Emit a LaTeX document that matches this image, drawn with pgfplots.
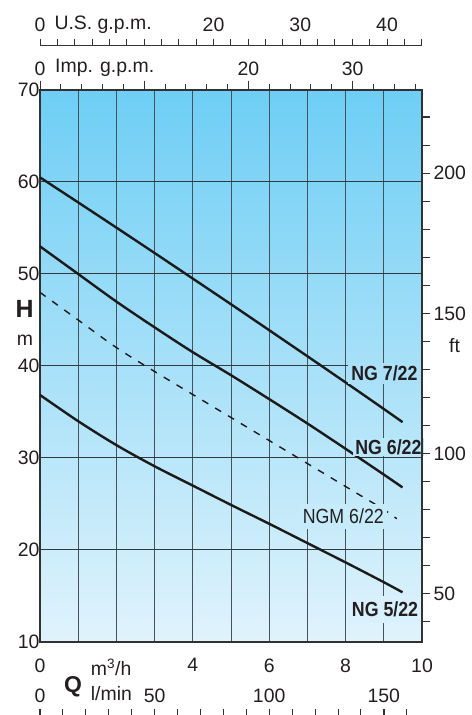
\documentclass[border=0pt]{standalone}
\usepackage{pgfplots}
\pgfplotsset{compat=1.18}
\usepackage{fontspec}
\setmainfont{Liberation Sans}
\newfontfamily\condfont[FakeStretch=0.87]{Liberation Sans}
\definecolor{bgtop}{RGB}{110,206,245}
\definecolor{bgbot}{RGB}{224,243,252}
\definecolor{gridv}{RGB}{70,82,90}
\definecolor{gridh}{RGB}{50,58,64}
\definecolor{framec}{RGB}{50,50,50}
\definecolor{curvec}{RGB}{28,26,26}
\definecolor{txt}{RGB}{35,31,32}
\definecolor{labA}{RGB}{170,225,249}
\definecolor{labB}{RGB}{186,231,250}
\definecolor{labC}{RGB}{198,235,251}
\definecolor{labD}{RGB}{217,241,252}
\newcommand\tf{\fontsize{19.5}{22}\selectfont}
\newcommand\lf{\condfont\fontsize{20.5}{23}\selectfont}
\pgfplotsset{/pgf/number format/assume math mode=true}
\begin{document}
\begin{tikzpicture}
\useasboundingbox (0,0) rectangle (472bp,715bp);
% ---------------- main axis (m3/h, m)
\begin{axis}[
  at={(40bp,73bp)}, anchor=south west,
  scale only axis, width=382bp, height=552bp,
  xmin=0, xmax=10, ymin=10, ymax=70,
  xtick={0,1,...,10}, xticklabels={0,,,,4,,6,,8,,10},
  ytick={10,20,...,70},
  major tick length=0pt,
  xmajorgrids, ymajorgrids,
  x grid style={gridv, line width=1bp},
  y grid style={gridh, line width=1bp},
  axis line style={framec, line width=1.8bp},
  axis background/.style={shade, top color=bgtop, bottom color=bgbot},
  tick label style={font=\tf, text=txt},
  xticklabel style={yshift=-13bp},
  yticklabel style={xshift=3bp},
  clip=false,
]
\addplot[curvec, line width=2.4bp, smooth] coordinates {
 (0,60.5)(1,57.78)(2,55.04)(3,52.28)(4,49.5)(5,46.71)(6,43.89)(7,41.06)(8,38.21)(9,35.33)(9.49,33.9)};
\addplot[curvec, line width=2.4bp, smooth] coordinates {
 (0,53.0)(1,50.0)(2,47.0)(3,44.2)(4,41.5)(5,39.0)(6,36.4)(7,33.75)(8,31.0)(9,28.2)(9.49,26.8)};
\addplot[curvec, line width=1.4bp, smooth, dash pattern=on 7bp off 8bp] coordinates {
 (0,48.0)(1,45.0)(2,42.0)(3,39.4)(4,36.9)(5,34.4)(6,31.9)(7,29.4)(8,26.9)(9,24.4)(9.34,23.4)};
\addplot[curvec, line width=2.4bp, smooth] coordinates {
 (0,36.85)(1,34.0)(2,31.4)(3,29.1)(4,27.0)(5,24.9)(6,22.85)(7,20.75)(8,18.65)(9,16.5)(9.49,15.4)};
\end{axis}
% curve labels
\node[font=\lf\bfseries, text=txt, fill=labA, anchor=base east, inner xsep=3bp, inner ysep=3bp] at (420.7bp,334bp) {NG 7/22};
\node[font=\lf\bfseries, text=txt, fill=labB, anchor=base east, inner xsep=2bp, inner ysep=1.5bp] at (423.7bp,260.7bp) {NG 6/22};
\node[font=\lf, text=txt, fill=labC, anchor=base east, inner xsep=3bp, inner ysep=5bp] at (387bp,191bp) {NGM 6/22};
\node[font=\lf\bfseries, text=txt, fill=labD, anchor=base east, inner xsep=3bp, inner ysep=6bp] at (421.3bp,98.3bp) {NG 5/22};
% ---------------- right axis (ft)
\begin{axis}[
  at={(40bp,73bp)}, anchor=south west,
  scale only axis, width=382bp, height=552bp,
  xmin=0, xmax=10, ymin=32.8084, ymax=229.6588,
  axis x line=none, axis y line*=right,
  ytick={40,50,...,220}, yticklabels={,50,,,,,100,,,,,150,,,,,200,,},
  ytick align=outside, major tick length=8bp,
  tick style={framec, line width=1.2bp},
  axis line style={-, framec, line width=1.8bp},
  tick label style={font=\tf, text=txt},
]
\end{axis}
% ---------------- U.S. g.p.m.
\begin{axis}[
  at={(40bp,669.3bp)}, anchor=north west,
  scale only axis, width=382bp, height=1bp,
  xmin=0, xmax=44.03, ymin=0, ymax=1,
  axis x line=top, axis y line=none,
  xtick={0,20,30,40}, xticklabels={0,20,30,40}, minor xtick={2,4,...,44},
  xtick align=outside, major tick length=7bp, minor tick length=7bp,
  tick style={framec, line width=1bp},
  axis line style={-, framec, line width=1.3bp},
  tick label style={font=\tf, text=txt},
  xticklabel style={yshift=3bp},
]
\end{axis}
% ---------------- Imp. g.p.m.
\begin{axis}[
  at={(40bp,625bp)}, anchor=north west,
  scale only axis, width=382bp, height=1bp,
  xmin=0, xmax=36.66, ymin=0, ymax=1,
  axis x line=top, axis y line=none,
  xtick={0,10,20,30}, xticklabels={0,,20,30}, minor xtick={2,4,...,36},
  xtick align=outside, major tick length=8.5bp, minor tick length=6bp,
  tick style={framec, line width=1bp},
  axis line style={-, draw=none},
  tick label style={font=\tf, text=txt},
  xticklabel style={yshift=2bp},
]
\end{axis}
% ---------------- l/min
\begin{axis}[
  at={(40bp,6bp)}, anchor=north west,
  scale only axis, width=382bp, height=1bp,
  xmin=0, xmax=166.667, ymin=0, ymax=1,
  axis x line=top, axis y line=none,
  xtick={0,50,100,150}, xticklabels={0,50,100,150}, minor xtick={10,20,...,160},
  xtick align=inside, major tick length=12bp, minor tick length=12bp,
  major tick style={framec, line width=1.4bp},
  minor tick style={framec, line width=0.9bp},
  axis line style={-, draw=none},
  tick label style={font=\tf, text=txt},
  xticklabel style={yshift=2.5bp},
]
\end{axis}
% ---------------- texts
\node[font=\tf, text=txt, anchor=base west, inner sep=0pt] at (54.3bp,685.7bp) {U.S. g.p.m.};
\node[font=\tf, text=txt, anchor=base west, inner sep=0pt] at (55bp,642.3bp) {Imp. g.p.m.};
\node[font=\bfseries\fontsize{25}{28}\selectfont, text=txt, anchor=base, inner sep=0pt] at (24.5bp,397bp) {H};
\node[font=\tf, text=txt, anchor=base, inner sep=0pt] at (25bp,369bp) {m};
\node[font=\tf, text=txt, anchor=base, inner sep=0pt] at (454.5bp,362bp) {ft};
\node[font=\bfseries\fontsize{23}{26}\selectfont, text=txt, anchor=base, inner sep=0pt] at (73bp,23bp) {Q};
\node[font=\tf, text=txt, anchor=base west, inner sep=0pt] at (90.7bp,39.3bp) {m\textsuperscript{3}/h};
\node[font=\tf, text=txt, anchor=base west, inner sep=0pt] at (90.7bp,15bp) {l/min};
\end{tikzpicture}
\end{document}
